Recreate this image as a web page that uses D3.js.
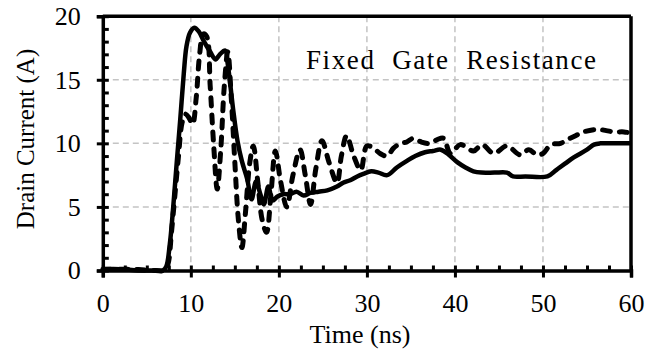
<html lang="en">
<head>
    <meta charset="UTF-8">
    <title>Drain Current</title>
    <script src="https://cdn.jsdelivr.net/npm/d3@7/dist/d3.min.js"></script>
    <style>
        body { margin: 0; background: #fff; }
        text { font-family: "Liberation Serif", "Times New Roman", serif; fill: #000; }
    </style>
</head>
<body>
    <svg id="svg"></svg>

    <script>
        var WIDTH = 660;
        var HEIGHT = 349;
        var LEFT = 102.8, RIGHT = 631, TOP = 16.2, BOTTOM = 270.5;

        // tick labels
        var xTicks = [0, 10, 20, 30, 40, 50, 60];
        var yTicks = [0, 5, 10, 15, 20];

        // fixed gate resistance, solid trace (time ns, current A)
        var solidTime = [0, 2, 4, 6, 6.8, 7.2, 7.6, 8.0, 8.4, 8.8, 9.2, 9.5, 9.9, 10.4, 10.9, 11.5, 12.2, 12.8, 13.3, 13.9,
            14.2, 14.5, 14.8, 15.3, 15.8, 16.4, 16.9, 17.4, 17.9, 18.3, 18.8, 19.3, 19.8, 20.5, 21.3, 22, 22.8, 23.6,
            24.5, 25.5, 26.6, 27.3, 28.1, 28.9, 29.6, 30.5, 31.3, 32.3, 33.4, 34.5, 35.5, 36.6, 37.5, 38.4, 39.3,
            40.3, 41.2, 42.1, 43, 44.5, 45.9, 46.6, 48, 50.5, 51.5, 52.5, 53.5, 55, 55.8, 56.5, 58, 60];
        var solidCurrent = [0.1, 0.1, 0.0, 0.0, 0.0, 0.3, 2.0, 5.0, 8.5, 11.9, 15.5, 17.6, 18.7, 19.1, 18.8, 18.0, 17.2, 16.6, 17.0, 17.3,
            16.2, 14.5, 12.7, 10.2, 8.6, 7.2, 5.6, 7.0, 6.0, 5.2, 6.6, 5.5, 5.8, 6.0, 6.0, 6.2, 5.9, 6.1,
            6.2, 6.3, 6.6, 6.9, 7.1, 7.4, 7.6, 7.8, 7.7, 7.5, 8.1, 8.6, 9.0, 9.3, 9.4, 9.5, 9.1,
            8.5, 8.1, 7.8, 7.7, 7.7, 7.7, 7.4, 7.4, 7.4, 7.9, 8.4, 8.9, 9.5, 9.9, 10.0, 10.0, 10.0];

        // dashed trace
        var dashTime = [0, 3, 6, 7.0, 7.4, 7.8, 8.2, 8.6, 9.0, 9.4, 9.8, 10.2, 10.6, 11.0, 11.4, 11.8, 12.2, 12.6, 13.0, 13.4,
            13.8, 14.2, 14.6, 15.0, 15.4, 15.8, 16.2, 16.7, 17.1, 17.6, 18.1, 18.6, 19.1, 19.6, 20.2, 20.9, 21.6,
            22.4, 23.0, 23.6, 24.2, 24.9, 25.7, 26.6, 27.1, 27.7, 28.5, 29.3, 30.0, 30.8, 31.5, 32.3, 33.0, 33.8,
            34.5, 35.3, 36.2, 37.2, 38.0, 38.7, 39.5, 40.6, 42.1, 43.1, 44.4, 45.9, 47.4, 48.4, 49.3, 50.0, 50.9,
            52.0, 52.8, 53.7, 54.6, 56.2, 57.2, 58.1, 59.2, 60];
        var dashCurrent = [0.1, 0.1, 0.0, 0.0, 0.5, 3.0, 6.0, 9.0, 11.6, 12.3, 12.0, 11.5, 13.5, 17.0, 18.6, 18.4, 14.5, 9.8, 6.4, 9.5,
            14.5, 17.2, 13.5, 8.5, 4.0, 1.8, 4.5, 8.5, 9.8, 7.0, 4.0, 3.0, 6.0, 9.4, 7.0, 5.0, 7.5,
            9.5, 7.5, 5.2, 8.0, 10.2, 8.5, 6.9, 9.0, 10.6, 9.0, 7.9, 9.8, 9.6, 9.2, 9.0, 9.6, 10.0,
            10.1, 10.4, 10.1, 10.0, 10.3, 10.4, 9.2, 9.9, 9.4, 9.9, 9.2, 9.8, 9.1, 9.5, 9.1, 9.2, 9.9,
            10.0, 10.3, 10.6, 10.9, 11.1, 11.0, 10.9, 10.9, 10.8];

        var svg = d3.select("#svg")
                    .attr("width", WIDTH)
                    .attr("height", HEIGHT);

        var xScale = d3.scaleLinear().domain([0, 60]).range([LEFT, RIGHT]);
        var yScale = d3.scaleLinear().domain([0, 20]).range([BOTTOM, TOP]);

        // grid
        svg.append("g")
           .selectAll("line")
           .data(xTicks.slice(1, -1))
           .enter().append("line")
           .attr("x1", function(d){ return xScale(d); })
           .attr("x2", function(d){ return xScale(d); })
           .attr("y1", TOP).attr("y2", BOTTOM)
           .attr("stroke", "#c4c4c4").attr("stroke-width", 1.5)
           .attr("stroke-dasharray", "6,4");
        svg.append("g")
           .selectAll("line")
           .data(yTicks.slice(1, -1))
           .enter().append("line")
           .attr("y1", function(d){ return yScale(d); })
           .attr("y2", function(d){ return yScale(d); })
           .attr("x1", LEFT).attr("x2", RIGHT)
           .attr("stroke", "#c4c4c4").attr("stroke-width", 1.5)
           .attr("stroke-dasharray", "6,4");

        // lines
        var solid = solidTime.map(function(t, i){ return [t, solidCurrent[i]]; });
        var dashed = dashTime.map(function(t, i){ return [t, dashCurrent[i]]; });
        var line = d3.line()
                     .x(function(d){ return xScale(d[0]); })
                     .y(function(d){ return yScale(d[1]); })
                     .curve(d3.curveCatmullRom.alpha(0.5));

        svg.append("path")
           .attr("d", line(solid))
           .attr("fill", "none").attr("stroke", "#000")
           .attr("stroke-width", 4.5).attr("stroke-linejoin", "round");
        svg.append("path")
           .attr("d", line(dashed))
           .attr("fill", "none").attr("stroke", "#000")
           .attr("stroke-width", 5).attr("stroke-linecap", "round")
           .attr("stroke-dasharray", "8,9");

        // frame: top and right
        svg.append("line").attr("x1", LEFT).attr("x2", RIGHT).attr("y1", TOP).attr("y2", TOP)
           .attr("stroke", "#000").attr("stroke-width", 3.5);
        svg.append("line").attr("x1", RIGHT).attr("x2", RIGHT).attr("y1", TOP).attr("y2", BOTTOM)
           .attr("stroke", "#000").attr("stroke-width", 3.5);

        // minor ticks (inward)
        var yMinor = d3.axisRight(yScale).tickValues(d3.range(0, 21, 1)).tickSize(6).tickFormat("");
        var xMinor = d3.axisTop(xScale).tickValues(d3.range(0, 61, 2.5)).tickSize(5).tickFormat("");
        svg.append("g").attr("class", "minor").attr("transform", "translate(" + LEFT + ",0)").call(yMinor);
        svg.append("g").attr("class", "minor").attr("transform", "translate(0," + BOTTOM + ")").call(xMinor);

        // major axes
        var yAxis = d3.axisLeft(yScale).tickValues(yTicks).tickSize(6).tickPadding(16);
        var xAxis = d3.axisBottom(xScale).tickValues(xTicks).tickSize(7).tickPadding(16);
        svg.append("g").attr("transform", "translate(" + LEFT + ",0)").call(yAxis);
        svg.append("g").attr("transform", "translate(0," + BOTTOM + ")").call(xAxis);

        svg.selectAll(".domain").attr("stroke", "#000").attr("stroke-width", 3.5);
        svg.selectAll(".tick line").attr("stroke", "#000").attr("stroke-width", 3);
        svg.selectAll(".minor .domain").remove();
        svg.selectAll(".tick text")
           .attr("font-family", "'Liberation Serif', serif")
           .attr("font-size", "26px").attr("fill", "#000");

        // titles
        svg.append("text")
           .attr("x", 360).attr("y", 343)
           .attr("text-anchor", "middle")
           .attr("font-size", "26px")
           .text("Time (ns)");
        svg.append("text")
           .attr("transform", "translate(34,139) rotate(-90)")
           .attr("text-anchor", "middle")
           .attr("font-size", "25px")
           .text("Drain Current (A)");
        svg.append("text")
           .attr("x", 306).attr("y", 69)
           .attr("font-size", "27px")
           .attr("textLength", 290)
           .attr("lengthAdjust", "spacing")
           .style("white-space", "pre")
           .text("Fixed  Gate  Resistance");
    </script>
</body>
</html>
